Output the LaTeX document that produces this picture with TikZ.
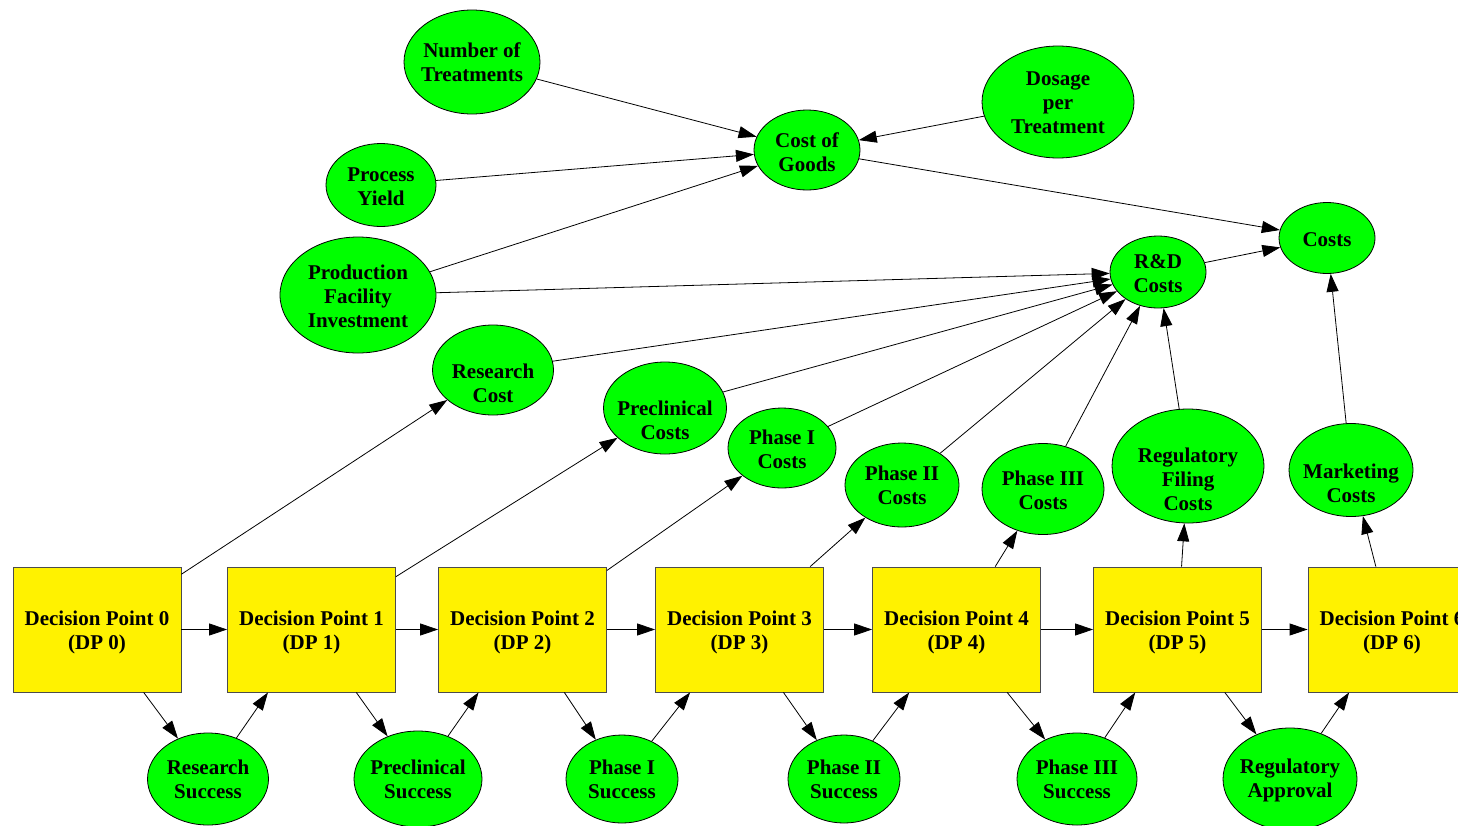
\documentclass[tikz,border=0pt]{standalone}
\usepackage{fontspec}
\setmainfont{Liberation Serif}
\usetikzlibrary{shapes.geometric,arrows.meta}

% green chance node: name, x, y, width, height, text drop, text
\newcommand\bubble[7]{%
  \node[ell, minimum width=#4pt, minimum height=#5pt,
        label={[txt, yshift=-#6pt]center:{#7}}] (#1) at (#2,#3) {};}
% yellow decision node: name, x, number
\newcommand\decision[3]{%
  \node[dpbox] (#1) at (#2,629.5) {\rule{0pt}{20pt}Decision Point #3\\(DP #3)};}

\begin{document}
\begin{tikzpicture}[x=1pt,y=-1pt,
  every node/.style={font=\bfseries\fontsize{21}{24}\selectfont},
  ell/.style={ellipse, draw=black, fill=green, inner sep=0pt, line width=0.8pt},
  txt/.style={align=center, inner sep=0pt},
  dpbox/.style={rectangle, draw=black!70, fill=yellow, minimum width=168pt,
                minimum height=125pt, inner sep=0pt, align=center, line width=0.8pt},
  arr/.style={-{Triangle[length=18pt,width=12pt]}, line width=0.8pt, black}]
\useasboundingbox (0,0) rectangle (1458,825);
\clip (0,0) rectangle (1458,825);

% cost model
\bubble{nt}{472}{62}{136}{104}{0}{Number of\\Treatments}
\bubble{dpt}{1058}{102}{152}{112}{1}{Dosage\\per\\Treatment}
\bubble{cog}{807}{150}{106}{80}{2}{Cost of\\Goods}
\bubble{py}{381}{185}{110}{83}{2}{Process\\Yield}
\bubble{pfi}{358}{295}{156}{116}{1}{Production\\Facility\\Investment}
\bubble{costs}{1327}{238}{96}{71}{2}{Costs}
\bubble{rd}{1158}{272}{96}{72}{2}{R\&D\\Costs}
\bubble{rc}{493}{370}{121}{90}{13}{Research\\Cost}
\bubble{pc}{665}{408}{123}{92}{12}{Preclinical\\Costs}
\bubble{p1c}{782}{448}{108}{80}{1}{Phase I\\Costs}
\bubble{p2c}{902}{485}{114}{84}{0}{Phase II\\Costs}
\bubble{p3c}{1043}{489}{122}{91}{1}{Phase III\\Costs}
\bubble{rfc}{1188}{466}{152}{114}{13}{Regulatory\\Filing\\Costs}
\bubble{mc}{1351}{470}{124}{93}{13}{Marketing\\Costs}

% decision points
\decision{dp0}{97}{0}
\decision{dp1}{311.5}{1}
\decision{dp2}{522.5}{2}
\decision{dp3}{739.5}{3}
\decision{dp4}{956.5}{4}
\decision{dp5}{1177.5}{5}
\decision{dp6}{1392}{6}

% success chances
\bubble{rs}{208}{779}{121}{92}{0}{Research\\Success}
\bubble{ps}{418}{779}{128}{96}{0}{Preclinical\\Success}
\bubble{p1s}{622}{779}{112}{88}{0}{Phase I\\Success}
\bubble{p2s}{844}{779}{112}{88}{0}{Phase II\\Success}
\bubble{p3s}{1077}{779}{120}{92}{0}{Phase III\\Success}
\bubble{ra}{1290}{779}{134}{102}{1}{Regulatory\\Approval}

% decision chain
\draw[arr] (dp0) -- (dp1);
\draw[arr] (dp1) -- (dp2);
\draw[arr] (dp2) -- (dp3);
\draw[arr] (dp3) -- (dp4);
\draw[arr] (dp4) -- (dp5);
\draw[arr] (dp5) -- (dp6);

\draw[arr] (dp0) -- (rs);  \draw[arr] (rs) -- (dp1);
\draw[arr] (dp1) -- (ps);  \draw[arr] (ps) -- (dp2);
\draw[arr] (dp2) -- (p1s); \draw[arr] (p1s) -- (dp3);
\draw[arr] (dp3) -- (p2s); \draw[arr] (p2s) -- (dp4);
\draw[arr] (dp4) -- (p3s); \draw[arr] (p3s) -- (dp5);
\draw[arr] (dp5) -- (ra);  \draw[arr] (ra) -- (dp6);

% stage costs
\draw[arr] (dp0) -- (rc);
\draw[arr] (dp1) -- (pc);
\draw[arr] (dp2) -- (p1c);
\draw[arr] (dp3) -- (p2c);
\draw[arr] (dp4) -- (p3c);
\draw[arr] (dp5) -- (rfc);
\draw[arr] (dp6) -- (mc);

% R&D roll-up
\draw[arr] (pfi) -- (rd);
\draw[arr] (rc) -- (rd);
\draw[arr] (pc) -- (rd);
\draw[arr] (p1c) -- (rd);
\draw[arr] (p2c) -- (rd);
\draw[arr] (p3c) -- (rd);
\draw[arr] (rfc) -- (rd);

% cost of goods
\draw[arr] (nt) -- (cog);
\draw[arr] (py) -- (cog);
\draw[arr] (pfi) -- (cog);
\draw[arr] (dpt) -- (cog);

% total costs
\draw[arr] (cog) -- (costs);
\draw[arr] (rd) -- (costs);
\draw[arr] (mc) -- (costs);
\end{tikzpicture}
\end{document}
